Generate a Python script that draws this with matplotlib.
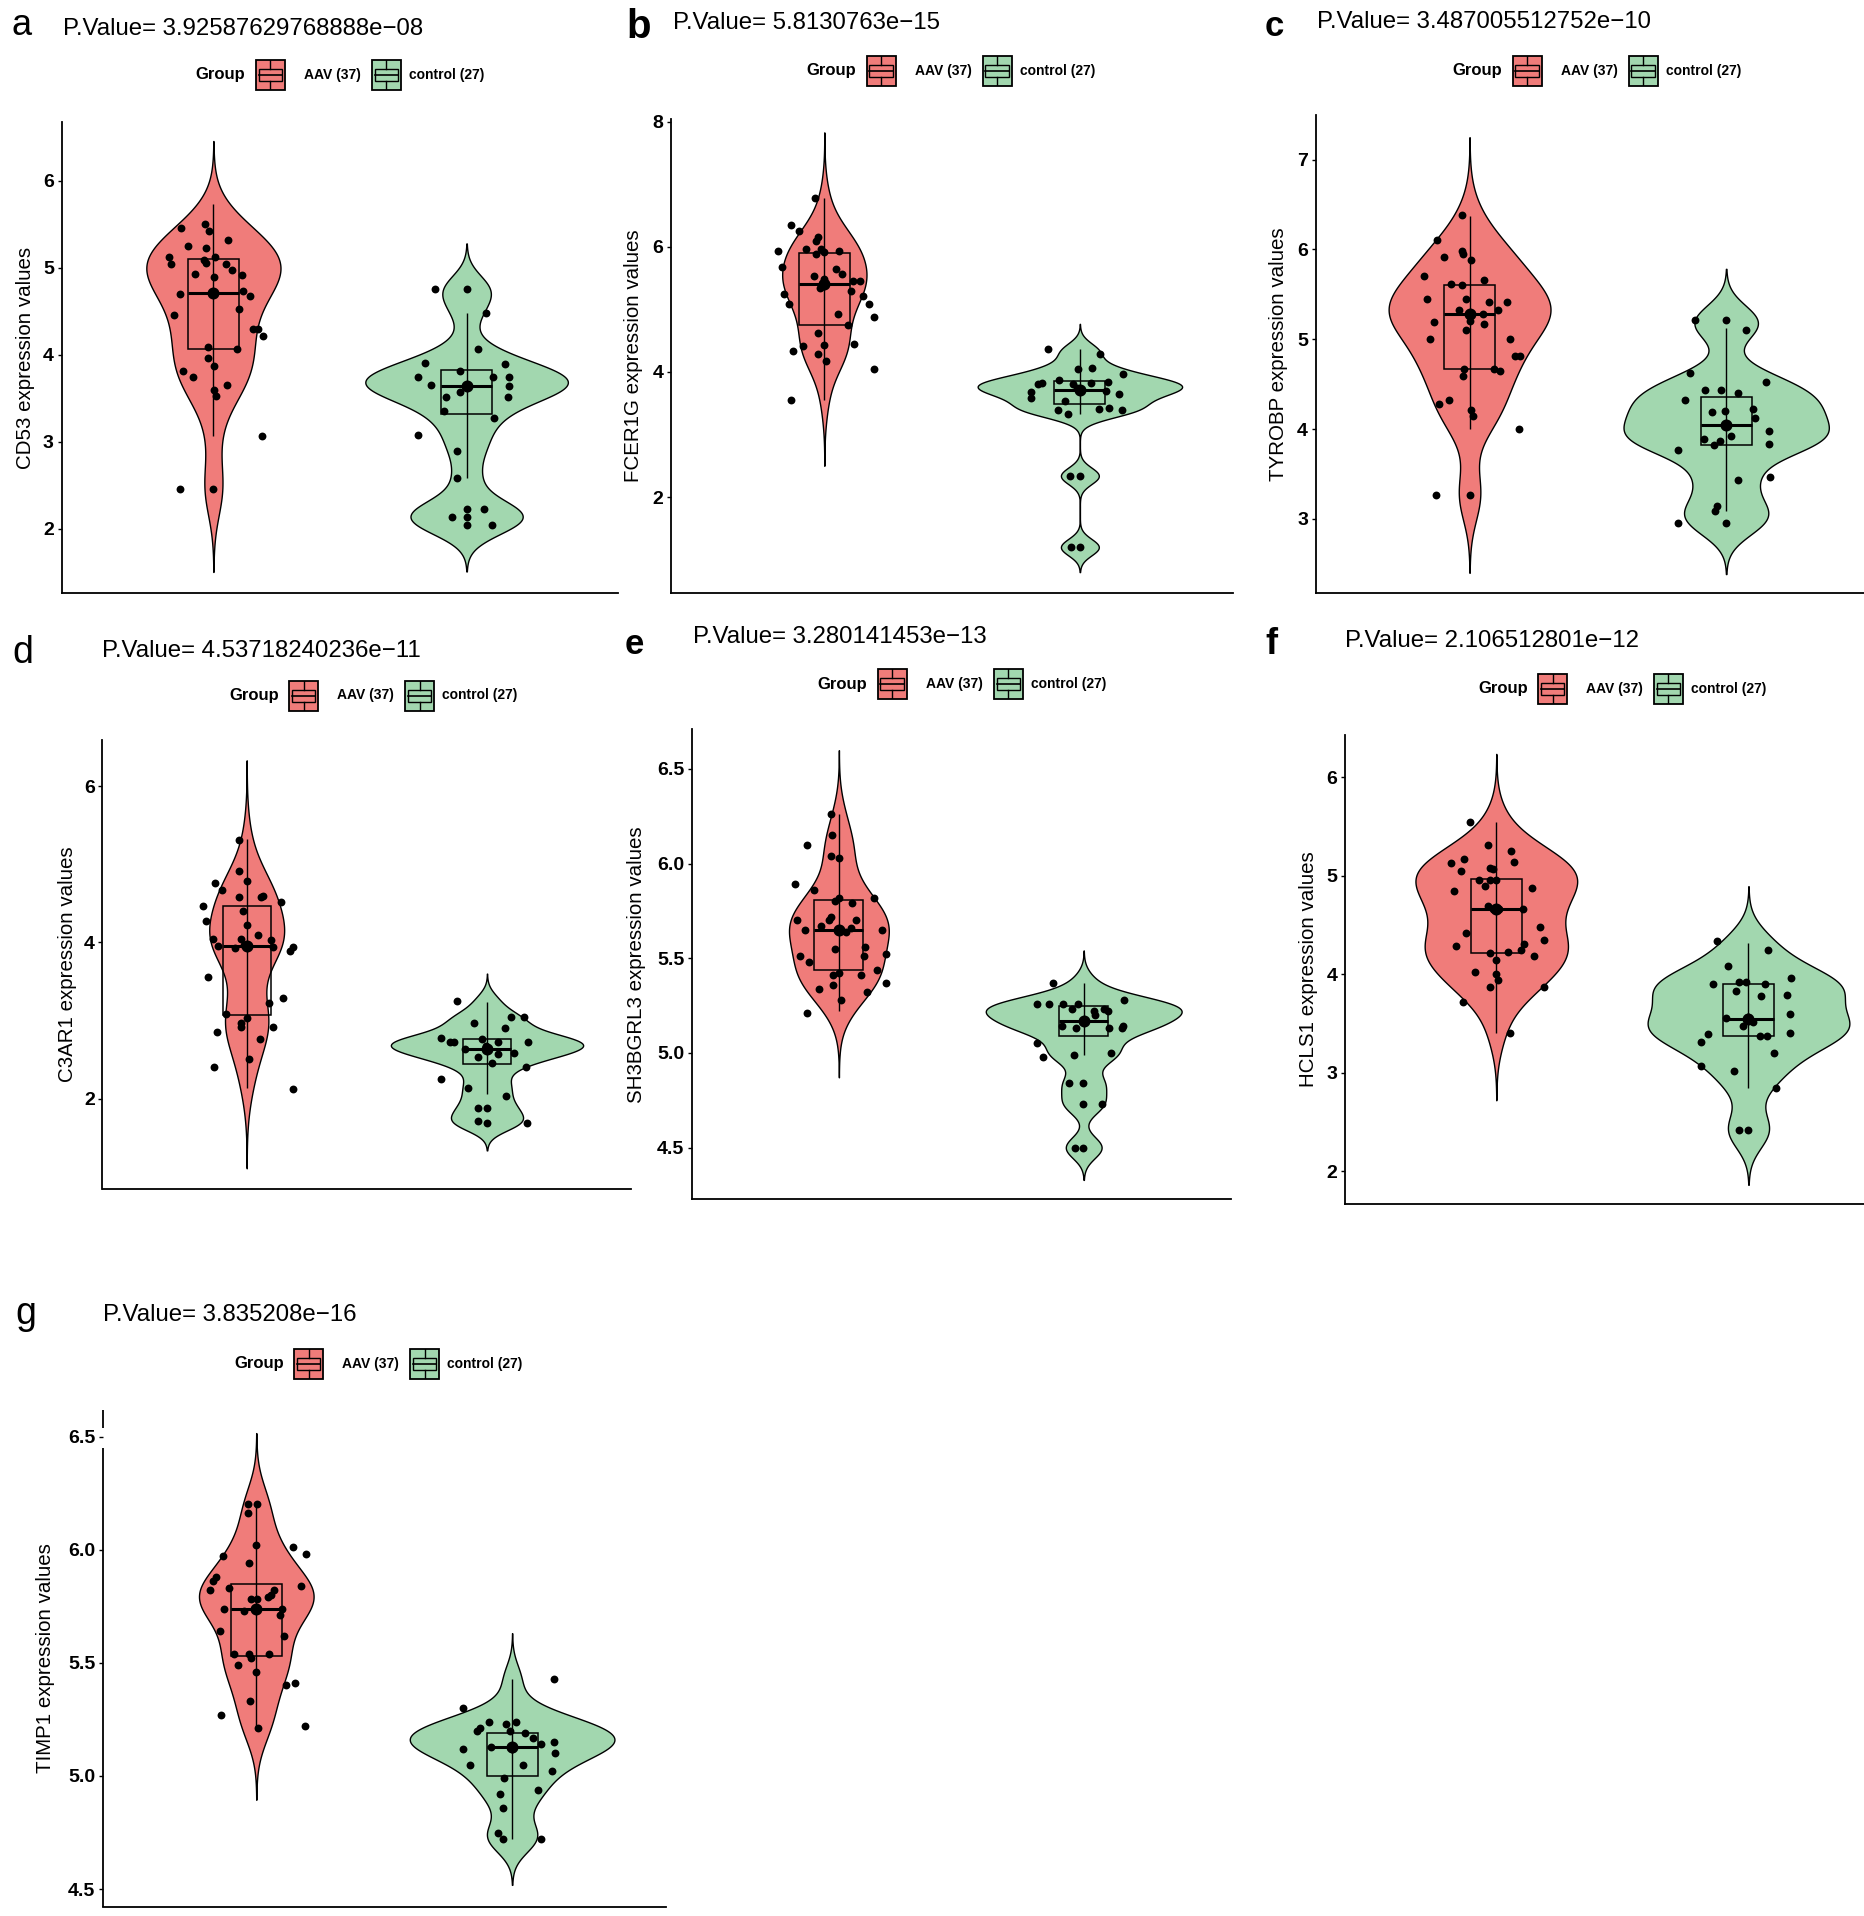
import matplotlib
matplotlib.use("Agg")
import matplotlib.pyplot as plt
import numpy as np
from matplotlib.patches import Rectangle

plt.rcParams["font.family"] = ["Liberation Sans", "DejaVu Sans"]

W, H = 1865, 1916
RED = "#F07C7A"
GREEN = "#A2D7AF"

groups = ["AAV (37)", "control (27)"]
genes = ["CD53", "FCER1G", "TYROBP", "C3AR1", "SH3BGRL3", "HCLS1", "TIMP1"]
letters = ["a", "b", "c", "d", "e", "f", "g"]
p_values = ["3.92587629768888e-08", "5.8130763e-15", "3.487005512752e-10",
            "4.53718240236e-11", "3.280141453e-13", "2.106512801e-12",
            "3.835208e-16"]

# tick values per panel
ticks_a = [2, 3, 4, 5, 6]
ticks_b = [2, 4, 6, 8]
ticks_c = [3, 4, 5, 6, 7]
ticks_d = [2, 4, 6]
ticks_half = [4.5, 5.0, 5.5, 6.0, 6.5]
ticks_f = [2, 3, 4, 5, 6]

# expression values (AAV n=37, control n=27),
# horizontal jitter of each dot, box stats [q1, median, q3, low, high],
# and violin kernel bandwidths [AAV, control]
cd53_aav = [5.12, 5.04, 5.45, 5.25, 4.93, 5.50, 5.42, 5.23, 5.09, 5.05,
            5.12, 5.32, 5.04, 4.97, 4.92, 4.89, 4.71, 4.70, 4.73, 4.68,
            4.52, 4.46, 4.30, 4.30, 4.22, 4.09, 4.07, 3.96, 3.87, 3.81,
            3.74, 3.65, 3.59, 3.53, 3.07, 2.46, 2.46]
cd53_aav_jit = [-0.175, -0.168, -0.128, -0.102, -0.073, -0.033, -0.017, -0.031, -0.039, -0.030,
                0.005, 0.058, 0.050, 0.073, 0.114, 0.002, 0.0, -0.133, 0.116, 0.144,
                0.103, -0.156, 0.158, 0.178, 0.194, -0.023, 0.094, -0.023, 0.002, -0.122,
                -0.081, 0.055, 0.002, 0.009, 0.192, -0.133, 0.0]
cd53_ctrl = [4.75, 4.75, 4.48, 4.07, 3.90, 3.89, 3.74, 3.65, 3.81, 3.74,
             3.64, 3.75, 3.64, 3.57, 3.52, 3.52, 3.35, 3.27, 3.08, 2.89,
             2.58, 2.14, 2.23, 2.14, 2.23, 2.04, 2.04]
cd53_ctrl_jit = [-0.125, 0, 0.075, 0.047, -0.163, 0.152, -0.191, -0.141, -0.027, 0.167,
                 0.167, 0.106, 0, -0.027, -0.083, 0.164, -0.089, 0.109, -0.191, -0.039,
                 -0.039, -0.059, 0, 0, 0.070, 0, 0.102]
cd53_box = [[4.07, 4.71, 5.10, 3.07, 5.73], [3.32, 3.64, 3.82, 2.58, 4.48]]
cd53_bw = [0.318, 0.176]

fcer1g_aav = [6.78, 6.35, 6.26, 6.15, 6.09, 5.93, 5.96, 5.96, 5.88, 5.91,
              5.93, 5.67, 5.65, 5.56, 5.53, 5.48, 5.41, 5.35, 5.45, 5.45,
              5.30, 5.24, 5.22, 5.08, 5.08, 4.92, 4.88, 4.75, 4.62, 4.44,
              4.41, 4.43, 4.33, 4.28, 4.18, 4.04, 3.55]
fcer1g_aav_jit = [-0.036, -0.13, -0.10, -0.026, -0.031, -0.18, -0.073, -0.014, -0.031, 0.0,
                  0.056, -0.166, 0.046, 0.070, -0.042, 0.0, -0.008, -0.017, 0.113, 0.139,
                  0.105, -0.156, 0.153, -0.138, 0.176, 0.054, 0.193, 0.094, -0.023, 0.116,
                  -0.084, 0.0, -0.122, -0.023, 0.008, 0.193, -0.132]
fcer1g_ctrl = [4.37, 4.28, 3.97, 4.04, 4.06, 3.83, 3.80, 3.87, 3.84, 3.83,
               3.80, 3.74, 3.71, 3.69, 3.68, 3.58, 3.54, 3.65, 3.41, 3.43,
               3.39, 3.33, 3.39, 2.34, 2.34, 1.20, 1.20]
fcer1g_ctrl_jit = [-0.125, 0.077, 0.169, -0.008, 0.046, -0.147, -0.163, -0.082, 0.111, 0.042,
                   -0.028, -0.012, 0.003, 0.104, -0.19, -0.19, -0.059, 0.153, 0.073, 0.115,
                   -0.087, -0.046, 0.166, -0.039, 0, -0.036, 0]
fcer1g_box = [[4.75, 5.41, 5.90, 3.55, 6.78], [3.49, 3.71, 3.86, 3.33, 4.36]]
fcer1g_bw = [0.35, 0.133]

tyrobp_aav = [6.38, 6.11, 5.92, 5.98, 5.95, 5.88, 5.70, 5.62, 5.60, 5.66,
              5.45, 5.45, 5.42, 5.41, 5.33, 5.28, 5.28, 5.33, 5.19, 5.20,
              5.17, 5.10, 5.00, 5.00, 4.81, 4.81, 4.67, 4.67, 4.65, 4.59,
              4.32, 4.28, 4.21, 4.15, 4.00, 3.27, 3.27]
tyrobp_aav_jit = [-0.029, -0.125, -0.100, -0.029, -0.026, 0.005, -0.177, -0.071, -0.029, 0.055,
                  -0.165, -0.015, 0.074, 0.145, -0.043, 0, 0.051, 0.111, -0.137, 0,
                  0.055, -0.014, -0.156, 0.156, 0.177, 0.196, -0.023, 0.096, 0.119, -0.025,
                  -0.080, -0.119, 0.005, 0.012, 0.194, -0.131, 0]
tyrobp_ctrl = [5.22, 5.22, 5.10, 4.62, 4.52, 4.32, 4.43, 4.43, 4.40, 4.22,
               4.19, 4.20, 4.12, 4.04, 3.98, 3.92, 3.89, 3.87, 3.82, 3.83,
               3.77, 3.43, 3.47, 3.14, 3.09, 2.95, 2.95]
tyrobp_ctrl_jit = [-0.123, 0, 0.077, -0.142, 0.156, -0.162, -0.083, -0.022, 0.046, 0.105,
                   -0.057, -0.006, 0.112, 0, 0.166, 0.02, -0.088, -0.026, -0.046, 0.166,
                   -0.188, 0.046, 0.169, -0.037, -0.042, -0.188, 0]
tyrobp_box = [[4.67, 5.28, 5.60, 4.00, 6.37], [3.82, 4.04, 4.36, 3.09, 5.12]]
tyrobp_bw = [0.29, 0.188]

c3ar1_aav = [5.31, 4.92, 4.79, 4.76, 4.67, 4.58, 4.58, 4.60, 4.52, 4.47,
             4.40, 4.28, 4.22, 4.10, 4.05, 4.04, 4.03, 3.95, 3.93, 3.95,
             3.94, 3.89, 3.94, 3.56, 3.29, 3.22, 3.08, 3.03, 2.97, 2.92,
             2.92, 2.85, 2.77, 2.51, 2.40, 2.13, 3.97]
c3ar1_aav_jit = [-0.033, -0.030, 0, -0.131, -0.103, -0.033, 0.058, 0.068, 0.143, -0.182,
                 -0.017, -0.169, 0, 0.048, -0.139, -0.023, 0.101, -0.118, -0.048, 0,
                 0.109, 0.179, 0.192, -0.161, 0.153, 0.093, -0.085, 0, -0.025, -0.025,
                 0.111, -0.123, 0.055, 0.008, -0.136, 0.192, -0.012]
c3ar1_ctrl = [3.25, 2.97, 3.05, 3.04, 2.90, 2.78, 2.73, 2.73, 2.77, 2.73,
              2.73, 2.67, 2.63, 2.63, 2.57, 2.59, 2.53, 2.46, 2.41, 2.25,
              2.14, 2.04, 1.88, 1.88, 1.71, 1.69, 1.69]
c3ar1_ctrl_jit = [-0.123, -0.056, 0.101, 0.154, 0.075, -0.191, -0.156, -0.136, -0.020, 0.046,
                  0.171, -0.003, -0.090, 0, 0.046, 0.113, -0.036, 0.022, 0.163, -0.191,
                  -0.081, 0.080, -0.036, 0, -0.036, 0, 0.166]
c3ar1_box = [[3.07, 3.95, 4.47, 2.14, 5.32], [2.44, 2.63, 2.77, 2.06, 3.24]]
c3ar1_bw = [0.34, 0.117]

sh3bgrl3_aav = [6.26, 6.15, 6.10, 6.04, 6.03, 5.89, 5.86, 5.82, 5.82, 5.80,
                5.79, 5.70, 5.72, 5.70, 5.70, 5.65, 5.67, 5.65, 5.66, 5.65,
                5.55, 5.56, 5.51, 5.51, 5.52, 5.48, 5.44, 5.41, 5.42, 5.41,
                5.36, 5.37, 5.34, 5.32, 5.28, 5.21, 5.64]
sh3bgrl3_aav_jit = [-0.034, -0.027, -0.129, -0.032, 0.002, -0.179, -0.102, 0, 0.142, -0.016,
                    0.053, -0.170, -0.034, -0.042, 0.071, -0.139, -0.074, 0, 0.048, 0.176,
                    -0.016, 0.108, -0.158, 0.102, 0.191, -0.123, 0.155, -0.026, 0.002, 0.092,
                    -0.026, 0.191, -0.082, 0.115, 0.008, -0.132, 0.03]
sh3bgrl3_ctrl = [5.37, 5.26, 5.26, 5.26, 5.26, 5.23, 5.28, 5.22, 5.23, 5.22,
                 5.20, 5.17, 5.14, 5.13, 5.13, 5.13, 5.14, 5.05, 4.98, 4.99,
                 5.00, 4.84, 4.84, 4.73, 4.73, 4.50, 4.50]
sh3bgrl3_ctrl_jit = [-0.126, -0.191, -0.141, -0.084, -0.024, -0.048, 0.165, 0.040, 0.081, 0.1,
                     0.045, 0, -0.089, -0.032, 0.105, 0.157, 0.162, -0.191, -0.165, -0.040,
                     0.110, -0.060, -0.003, -0.003, 0.073, -0.037, -0.003]
sh3bgrl3_box = [[5.44, 5.65, 5.81, 5.22, 6.26], [5.09, 5.17, 5.25, 4.99, 5.37]]
sh3bgrl3_bw = [0.113, 0.057]

hcls1_aav = [5.55, 5.31, 5.25, 5.13, 5.17, 5.14, 5.05, 5.08, 5.07, 4.96,
             4.96, 4.96, 4.90, 4.85, 4.88, 4.69, 4.66, 4.66, 4.66, 4.48,
             4.42, 4.35, 4.29, 4.31, 4.25, 4.22, 4.23, 4.19, 4.15, 4.02,
             4.00, 3.94, 3.87, 3.87, 3.72, 3.41, 4.66]
hcls1_aav_jit = [-0.103, -0.031, 0.057, -0.181, -0.130, 0.069, -0.139, -0.025, -0.015, -0.069,
                 -0.026, 0, -0.046, -0.167, 0.142, -0.031, 0, -0.015, 0.105, 0.174,
                 -0.122, 0.190, -0.159, 0.111, 0.097, -0.025, 0.048, 0.151, 0, -0.083,
                 0, 0.008, -0.026, 0.191, -0.134, 0.054, 0.012]
hcls1_ctrl = [4.34, 4.25, 4.09, 3.96, 3.90, 3.92, 3.92, 3.90, 3.83, 3.78,
              3.79, 3.60, 3.56, 3.57, 3.52, 3.48, 3.40, 3.41, 3.37, 3.37,
              3.31, 3.20, 3.07, 3.02, 2.85, 2.42, 2.42]
hcls1_ctrl_jit = [-0.125, 0.077, -0.082, 0.170, -0.142, -0.039, -0.008, 0.065, -0.048, 0.049,
                  0.154, 0.165, -0.090, 0, 0.019, -0.023, -0.162, 0.165, 0.045, 0.073,
                  -0.190, 0.100, -0.190, -0.056, 0.111, -0.039, 0]
hcls1_box = [[4.22, 4.66, 4.97, 3.41, 5.55], [3.37, 3.55, 3.90, 2.85, 4.32]]
hcls1_bw = [0.229, 0.185]

timp1_aav = [6.20, 6.20, 6.16, 6.02, 6.01, 5.98, 5.97, 5.94, 5.88, 5.86,
             5.82, 5.83, 5.84, 5.82, 5.80, 5.79, 5.78, 5.78, 5.74, 5.74,
             5.74, 5.73, 5.71, 5.64, 5.62, 5.54, 5.54, 5.54, 5.49, 5.52,
             5.46, 5.40, 5.41, 5.33, 5.27, 5.22, 5.21]
timp1_aav_jit = [-0.031, 0.002, -0.031, 0, 0.142, 0.193, -0.132, -0.029, -0.159, -0.169,
                 -0.181, -0.107, 0.173, 0.069, 0.058, 0.046, -0.022, 0.002, -0.125, 0,
                 0.1, -0.047, 0.092, -0.141, 0.110, -0.088, -0.027, 0.051, -0.073, -0.022,
                 -0.002, 0.115, 0.153, -0.025, -0.136, 0.192, 0.008]
timp1_ctrl = [5.43, 5.30, 5.24, 5.23, 5.24, 5.20, 5.21, 5.20, 5.19, 5.17,
              5.12, 5.13, 5.13, 5.12, 5.14, 5.15, 5.10, 5.05, 5.05, 5.02,
              4.99, 4.92, 4.94, 4.86, 4.75, 4.72, 4.72]
timp1_ctrl_jit = [0.163, -0.192, -0.090, -0.022, 0.015, -0.137, -0.125, -0.007, 0.049, 0.08,
                  -0.192, -0.081, -0.01, 0, 0.114, 0.164, 0.168, -0.163, 0.044, 0.154,
                  -0.031, -0.049, 0.103, -0.036, -0.056, -0.036, 0.114]
timp1_box = [[5.53, 5.74, 5.85, 5.22, 6.20], [5.00, 5.13, 5.19, 4.72, 5.43]]
timp1_bw = [0.105, 0.067]

data = [
    (cd53_aav, cd53_aav_jit, cd53_ctrl, cd53_ctrl_jit, cd53_box, cd53_bw, ticks_a),
    (fcer1g_aav, fcer1g_aav_jit, fcer1g_ctrl, fcer1g_ctrl_jit, fcer1g_box, fcer1g_bw, ticks_b),
    (tyrobp_aav, tyrobp_aav_jit, tyrobp_ctrl, tyrobp_ctrl_jit, tyrobp_box, tyrobp_bw, ticks_c),
    (c3ar1_aav, c3ar1_aav_jit, c3ar1_ctrl, c3ar1_ctrl_jit, c3ar1_box, c3ar1_bw, ticks_d),
    (sh3bgrl3_aav, sh3bgrl3_aav_jit, sh3bgrl3_ctrl, sh3bgrl3_ctrl_jit, sh3bgrl3_box, sh3bgrl3_bw, ticks_half),
    (hcls1_aav, hcls1_aav_jit, hcls1_ctrl, hcls1_ctrl_jit, hcls1_box, hcls1_bw, ticks_f),
    (timp1_aav, timp1_aav_jit, timp1_ctrl, timp1_ctrl_jit, timp1_box, timp1_bw, ticks_half),
]

# layout in pixels: axes (left, top, right, bottom), xlim right, ylim,
# title (x, baseline), letter (x, baseline), legend (x, y center), y label gap
layout = [
    dict(ax=(61.5, 121.7, 618.5, 593.2), xr=2.6, yl=(1.262, 6.676), ylab=36,
         title=(63.3, 35.2), letter=(12, 35.2), leg=(195.7, 74.6), bold=False, lsize=26),
    dict(ax=(671, 118.6, 1233.2, 593.2), xr=2.6, yl=(0.464, 8.05), ylab=37,
         title=(672.6, 28.7), letter=(626, 38.3), leg=(806.6, 70.8), bold=True, lsize=29),
    dict(ax=(1315.6, 114.8, 1865, 593.2), xr=2.541, yl=(2.173, 7.499), ylab=37,
         title=(1317.4, 27.6), letter=(1265, 36.4), leg=(1452.6, 70.8), bold=True, lsize=25),
    dict(ax=(102.5, 740, 631.2, 1188.6), xr=2.6, yl=(0.85, 6.59), ylab=35,
         title=(101.6, 656.6), letter=(12, 663.3), leg=(229.2, 695.5), bold=False, lsize=27),
    dict(ax=(692, 729, 1230.6, 1199.4), xr=2.6, yl=(4.226, 6.711), ylab=55,
         title=(693, 643.3), letter=(625, 653.9), leg=(817.6, 684), bold=True, lsize=25),
    dict(ax=(1345, 734.7, 1865, 1204.3), xr=2.462, yl=(1.667, 6.432), ylab=37,
         title=(1345.3, 647.1), letter=(1265, 653.9), leg=(1478, 688.8), bold=True, lsize=26),
    dict(ax=(102.8, 1409.8, 665.6, 1906.8), xr=2.6, yl=(4.422, 6.618), ylab=57,
         title=(102.8, 1321.1), letter=(15, 1324), leg=(234.2, 1363.9), bold=False, lsize=27,
         gap=(6.448, 6.537)),
]


def fx(x):
    return x / W


def fy(y):
    return 1 - y / H


def kde(vals, bw):
    # gaussian kernel density, range extended by 3 bandwidths (ggplot trim = FALSE)
    x = np.asarray(vals, float)
    grid = np.linspace(x.min() - 3 * bw, x.max() + 3 * bw, 512)
    z = (grid[:, None] - x[None, :]) / bw
    dens = np.exp(-0.5 * z ** 2).sum(axis=1) / (len(x) * bw * np.sqrt(2 * np.pi))
    return grid, dens


def legend_key(fig, x, yc, color):
    kax = fig.add_axes([fx(x), fy(yc + 15), 29 / W, 30 / H])
    kax.set_xlim(0, 1)
    kax.set_ylim(0, 1)
    kax.axis("off")
    kax.add_patch(Rectangle((0, 0), 1, 1, facecolor=color, edgecolor="black",
                            lw=1.3, clip_on=False))
    kax.add_patch(Rectangle((0.1, 0.3), 0.8, 0.4, fill=False, edgecolor="black",
                            lw=1.0, clip_on=False))
    kax.plot([0.1, 0.9], [0.5, 0.5], color="black", lw=1.2)
    kax.plot([0.5, 0.5], [0, 0.3], color="black", lw=1.0)
    kax.plot([0.5, 0.5], [0.7, 1], color="black", lw=1.0)


fig = plt.figure(figsize=(W / 100, H / 100), dpi=100)

for i, (aav, aav_jit, ctrl, ctrl_jit, box, bws, ticks) in enumerate(data):
    lay = layout[i]
    left, top, right, bottom = lay["ax"]
    ax = fig.add_axes([fx(left), fy(bottom), (right - left) / W, (bottom - top) / H])

    # violins, scale = "area" (shared max density)
    curves = [kde(aav, bws[0]), kde(ctrl, bws[1])]
    dmax = max(d.max() for _, d in curves)
    for pos, (grid, dens), color in zip([1, 2], curves, [RED, GREEN]):
        half = 0.4 * dens / dmax
        ax.fill_betweenx(grid, pos - half, pos + half, facecolor=color,
                         edgecolor="black", lw=1.0, zorder=1)

    # boxplots (whisker line runs through the box)
    for pos, (q1, med, q3, lo, hi) in zip([1, 2], box):
        ax.vlines(pos, lo, hi, color="black", lw=1.0, zorder=2)
        ax.add_patch(Rectangle((pos - 0.1, q1), 0.2, q3 - q1, fill=False,
                               edgecolor="black", lw=1.1, zorder=2))
        ax.hlines(med, pos - 0.1, pos + 0.1, color="black", lw=2.2, zorder=2)

    # jittered points plus a larger median dot
    ax.scatter(1 + np.array(aav_jit), aav, s=32, color="black", lw=0, zorder=4)
    ax.scatter(2 + np.array(ctrl_jit), ctrl, s=32, color="black", lw=0, zorder=4)
    ax.scatter([1, 2], [box[0][1], box[1][1]], s=75, color="black", lw=0, zorder=5)

    ax.set_xlim(0.4, lay["xr"])
    ax.set_ylim(*lay["yl"])
    ax.set_xticks([])
    if ticks is ticks_half:
        labels = [f"{t:.1f}" for t in ticks]
    else:
        labels = [str(t) for t in ticks]
    ax.set_yticks(ticks, labels=labels, fontweight="bold", fontsize=14)
    ax.tick_params(axis="y", length=3, width=1.0, pad=2.5, colors="black")
    for side in ["top", "right"]:
        ax.spines[side].set_visible(False)
    for side in ["left", "bottom"]:
        ax.spines[side].set_linewidth(1.3)
    if "gap" in lay:
        # the left axis line of this panel is broken near the top tick
        ax.spines["left"].set_visible(False)
        y0, y1 = lay["yl"]
        ytr = ax.get_yaxis_transform()
        for seg in [(y0, lay["gap"][0]), (lay["gap"][1], y1)]:
            ax.plot([0, 0], seg, transform=ytr, color="black", lw=1.3,
                    clip_on=False, solid_capstyle="butt")
    ax.set_facecolor("none")

    ax.set_ylabel(f"{genes[i]} expression values", fontsize=14.8)
    ax.yaxis.label.set_va("center")
    ax.yaxis.set_label_coords(-lay["ylab"] / (right - left), 0.5)

    # title and panel letter
    tx, ty = lay["title"]
    fig.text(fx(tx), fy(ty), "P.Value= " + p_values[i].replace("-", "\u2212"),
             fontsize=17.3, ha="left", va="baseline")
    lx, ly = lay["letter"]
    fig.text(fx(lx), fy(ly), letters[i], fontsize=lay["lsize"], ha="left",
             va="baseline", fontweight="bold" if lay["bold"] else "normal")

    # legend
    gx, gy = lay["leg"]
    fig.text(fx(gx), fy(gy), "Group", fontsize=12, fontweight="bold",
             ha="left", va="center")
    legend_key(fig, gx + 60, gy, RED)
    fig.text(fx(gx + 108), fy(gy), groups[0], fontsize=10, fontweight="bold",
             ha="left", va="center")
    legend_key(fig, gx + 176, gy, GREEN)
    fig.text(fx(gx + 213), fy(gy), groups[1], fontsize=10, fontweight="bold",
             ha="left", va="center")

fig.savefig("out.png", dpi=100)
